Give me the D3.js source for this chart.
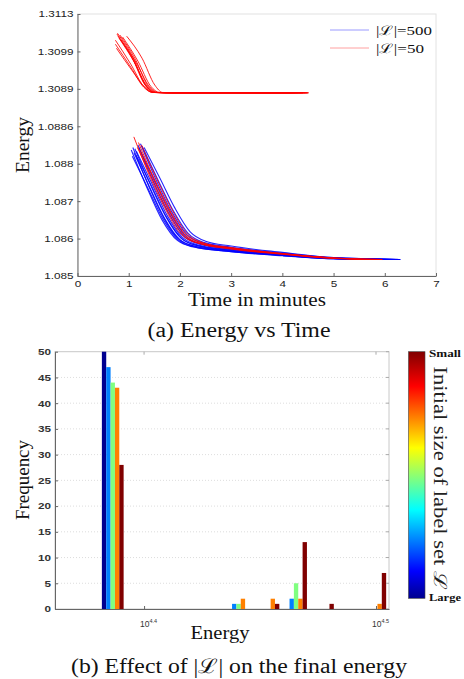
<!DOCTYPE html>
<html>
<head>
<meta charset="utf-8">
<script src="https://cdnjs.cloudflare.com/ajax/libs/d3/7.8.5/d3.min.js"></script>
<style>
body { margin: 0; background: #fff; }
</style>
</head>
<body>
<div id="c1"></div>
<script>
// ---- (a) energy vs time ----
var energyTicks = [1.085, 1.086, 1.087, 1.088, 1.0886, 1.3089, 1.3099, 1.3113];
var timeTicks = [0, 1, 2, 3, 4, 5, 6, 7];
var legendLabels = ["|\u2112|=500", "|\u2112|=50"];

// runs with |L|=500, points are [minutes, energy]
var runs500 = [
  [[1.05,1.08822],[1.35,1.08738],[1.65,1.08650],[1.95,1.08595],[2.25,1.08578],[3,1.08565],[4,1.08555],[5,1.08546],[6.3,1.08544]],
  [[1.08,1.08826],[1.38,1.08744],[1.68,1.08656],[1.98,1.08598],[2.28,1.08580],[3,1.08567],[4,1.08556],[5,1.08547],[6.25,1.08544]],
  [[1.10,1.08818],[1.40,1.08740],[1.70,1.08654],[2.00,1.08597],[2.30,1.08579],[3,1.08566],[4,1.08555],[5,1.08546],[6.2,1.08544]],
  [[1.12,1.08824],[1.42,1.08745],[1.72,1.08660],[2.02,1.08601],[2.32,1.08582],[3,1.08569],[4,1.08557],[5,1.08547],[6.3,1.08544]],
  [[1.15,1.08820],[1.45,1.08748],[1.75,1.08662],[2.05,1.08603],[2.35,1.08583],[3,1.08570],[4,1.08557],[5,1.08547],[6.1,1.08544]],
  [[1.18,1.08830],[1.48,1.08752],[1.78,1.08667],[2.08,1.08606],[2.38,1.08585],[3,1.08572],[4,1.08558],[5,1.08548],[6.3,1.08544]],
  [[1.20,1.08826],[1.50,1.08754],[1.80,1.08670],[2.10,1.08608],[2.40,1.08586],[3,1.08573],[4,1.08559],[5,1.08548],[6.0,1.08544]],
  [[1.23,1.08832],[1.53,1.08758],[1.83,1.08674],[2.13,1.08611],[2.43,1.08588],[3,1.08575],[4,1.08560],[5,1.08548],[6.3,1.08544]],
  [[1.26,1.08828],[1.56,1.08760],[1.86,1.08677],[2.16,1.08614],[2.46,1.08590],[3,1.08577],[4,1.08561],[5,1.08549],[6.2,1.08544]],
  [[1.30,1.08826],[1.60,1.08764],[1.90,1.08682],[2.20,1.08618],[2.50,1.08593],[3,1.08580],[4,1.08563],[5,1.08549],[6.3,1.08544]],
  [[1.07,1.08812],[1.37,1.08736],[1.67,1.08652],[1.97,1.08596],[2.27,1.08578],[3,1.08565],[4,1.08554],[5,1.08546],[5.8,1.08544]],
  [[1.14,1.08814],[1.44,1.08742],[1.74,1.08657],[2.04,1.08600],[2.34,1.08581],[3,1.08568],[4,1.08556],[5,1.08547],[6.3,1.08544]]
];

// runs with |L|=50 that end in the low minimum
var runs50Low = [
  [[1.10,1.08843],[1.40,1.08770],[1.70,1.08683],[2.00,1.08615],[2.30,1.08590],[3,1.08575],[4,1.08560],[5,1.08548],[5.95,1.08544]],
  [[1.17,1.08826],[1.47,1.08756],[1.77,1.08672],[2.07,1.08609],[2.37,1.08587],[3,1.08573],[4,1.08559],[5,1.08547],[5.9,1.08544]],
  [[1.22,1.08822],[1.52,1.08752],[1.82,1.08668],[2.12,1.08607],[2.42,1.08586],[3,1.08572],[4,1.08558],[5,1.08547],[5.95,1.08544]],
  [[1.25,1.08830],[1.55,1.08759],[1.85,1.08676],[2.15,1.08612],[2.45,1.08589],[3,1.08574],[4,1.08559],[5,1.08548],[5.6,1.08544]],
  [[1.19,1.08834],[1.49,1.08762],[1.79,1.08679],[2.09,1.08614],[2.39,1.08590],[3,1.08576],[4,1.08560],[5,1.08548],[5.95,1.08544]]
];

// runs with |L|=50 stuck in the high minimum
var runs50High = [
  [[0.74,1.31032],[1.04,1.30956],[1.29,1.30897],[1.46,1.2878],[1.7,1.2857],[4.3,1.2855]],
  [[0.77,1.31055],[1.07,1.30972],[1.32,1.30900],[1.49,1.2878],[1.75,1.2857],[4.5,1.2855]],
  [[0.79,1.31047],[1.09,1.30967],[1.34,1.30897],[1.51,1.2878],[1.75,1.2857],[4.45,1.2855]],
  [[0.81,1.31040],[1.11,1.30961],[1.36,1.30897],[1.53,1.2878],[1.8,1.2857],[4.4,1.2855]],
  [[0.83,1.31051],[1.13,1.30969],[1.38,1.30897],[1.55,1.2878],[1.8,1.2857],[4.52,1.2855]],
  [[0.76,1.31002],[1.06,1.30940],[1.31,1.30895],[1.48,1.2878],[1.7,1.2857],[4.2,1.2855]],
  [[0.85,1.31032],[1.15,1.30959],[1.40,1.30897],[1.56,1.2878],[1.8,1.2857],[4.35,1.2855]],
  [[0.96,1.31047],[1.26,1.30972],[1.51,1.30900],[1.66,1.2878],[1.9,1.2857],[4.5,1.2855]],
  [[0.74,1.31017],[1.04,1.30948],[1.29,1.30895],[1.46,1.2878],[1.7,1.2857],[4.25,1.2855]],
  [[0.88,1.31044],[1.18,1.30964],[1.43,1.30897],[1.60,1.2878],[1.85,1.2857],[4.48,1.2855]],
  [[0.78,1.31058],[1.08,1.30975],[1.33,1.30900],[1.50,1.2878],[1.75,1.2857],[4.4,1.2855]]
];

// ---- (b) histogram of final energy ----
var energyBins = [24350, 27590, 28420, 29210, 30000, 31600];
var countsSize1 = [50, 0, 0, 0, 0, 0];   // largest label set
var countsSize2 = [47, 1, 0, 2, 0, 0];
var countsSize3 = [44, 1, 0, 5, 0, 0];
var countsSize4 = [43, 2, 2, 2, 0, 1];
var countsSize5 = [28, 0, 1, 13, 1, 7];  // smallest label set
var barColors = ["#000090", "#0080ff", "#80ff80", "#ff8000", "#800000"];
var freqTicks = [0, 5, 10, 15, 20, 25, 30, 35, 40, 45, 50];
var logTicks = [4.4, 4.5];

var svg;
var sans = "Liberation Sans, Arial, sans-serif";
var serif = "Liberation Serif, Times New Roman, serif";

function stretch(sel, k) {
    sel.each(function () {
        var w = this.getComputedTextLength();
        d3.select(this).attr("textLength", w * k).attr("lengthAdjust", "spacingAndGlyphs");
    });
}

function label(g, txt, x, y, size, len, rot) {
    return g.append("text")
        .attr("transform", "translate(" + x + "," + y + ")" + (rot ? " rotate(" + rot + ")" : ""))
        .attr("text-anchor", "middle").attr("font-family", serif).attr("font-size", size).attr("fill", "#111")
        .attr("textLength", len).attr("lengthAdjust", "spacingAndGlyphs").text(txt);
}

function styleAxis(g) {
    g.attr("font-family", sans).attr("font-size", 9);
    g.select(".domain").attr("stroke", "#666");
    g.selectAll(".tick line").attr("stroke", "#666");
    g.selectAll(".tick text").attr("fill", "#222");
    stretch(g.selectAll(".tick text"), 1.3);
}

function drawTop() {
    var x = d3.scaleLinear().domain([0, 7]).range([77.5, 436]);
    var y = d3.scaleLinear()
        .domain(energyTicks)
        .range(energyTicks.map(function (d, i) { return 276 - i * 262 / 7; }));

    var g = svg.append("g");
    g.append("rect")
        .attr("x", 77.5).attr("y", 14).attr("width", 358.5).attr("height", 262)
        .attr("fill", "none").attr("stroke", "#e2e2e2");

    var xa = g.append("g").attr("transform", "translate(0,276)")
        .call(d3.axisBottom(x).tickValues(timeTicks).tickSize(-3).tickSizeOuter(0).tickPadding(5)
            .tickFormat(d3.format("d")));
    styleAxis(xa);
    var ya = g.append("g").attr("transform", "translate(77.5,0)")
        .call(d3.axisLeft(y).tickValues(energyTicks).tickSize(-3).tickSizeOuter(0).tickPadding(4)
            .tickFormat(function (d) { return String(d); }));
    styleAxis(ya);

    var line = d3.line()
        .x(function (d) { return x(d[0]); })
        .y(function (d) { return y(d[1]); })
        .curve(d3.curveMonotoneX);

    g.selectAll("path.r500").data(runs500).enter().append("path")
        .attr("class", "r500").attr("d", line)
        .attr("fill", "none").attr("stroke", "#0000ff").attr("stroke-width", 1.1).attr("stroke-opacity", 0.85);
    g.selectAll("path.r50l").data(runs50Low).enter().append("path")
        .attr("class", "r50l").attr("d", line)
        .attr("fill", "none").attr("stroke", "#ff0000").attr("stroke-width", 1).attr("stroke-opacity", 0.85);
    g.selectAll("path.r50h").data(runs50High).enter().append("path")
        .attr("class", "r50h").attr("d", line)
        .attr("fill", "none").attr("stroke", "#ff0000").attr("stroke-width", 1).attr("stroke-opacity", 0.85);

    // legend
    var legColors = ["#9a9aff", "#ffa0a0"];
    var lg = g.selectAll("g.leg").data(legendLabels).enter().append("g")
        .attr("class", "leg")
        .attr("transform", function (d, i) { return "translate(330," + (30 + i * 18) + ")"; });
    lg.append("line").attr("x1", 0).attr("x2", 39).attr("y1", 0).attr("y2", 0)
        .attr("stroke", function (d, i) { return legColors[i]; }).attr("stroke-width", 1);
    lg.append("text").attr("x", 46).attr("y", 4.5)
        .attr("font-family", serif).attr("font-size", 13).attr("fill", "#111")
        .attr("textLength", function (d, i) { return i == 0 ? 56 : 48; })
        .attr("lengthAdjust", "spacingAndGlyphs")
        .text(function (d) { return d; });

    // titles
    label(g, "Energy", 29, 145, 18, 56, -90);
    label(g, "Time in minutes", 257, 305.5, 18.5, 138);
    label(g, "(a) Energy vs Time", 239, 337, 20, 183);
}

function drawBottom() {
    var x = d3.scaleLog().domain([Math.pow(10, 4.3616), Math.pow(10, 4.5056)]).range([55, 389]);
    var y = d3.scaleLinear().domain([0, 50]).range([609, 351.7]);
    var bw = 4.35;
    var series = [countsSize1, countsSize2, countsSize3, countsSize4, countsSize5];

    var g = svg.append("g");

    // grid
    g.selectAll("line.grid").data(freqTicks.slice(1, -1)).enter().append("line")
        .attr("class", "grid")
        .attr("x1", 55).attr("x2", 389)
        .attr("y1", function (d) { return y(d); }).attr("y2", function (d) { return y(d); })
        .attr("stroke", "#d4d4d4").attr("stroke-width", 0.8).attr("stroke-dasharray", "1,2");

    g.append("rect")
        .attr("x", 55).attr("y", 351.7).attr("width", 334).attr("height", 257.3)
        .attr("fill", "none").attr("stroke", "#c8c8c8");

    // bars
    series.forEach(function (counts, i) {
        g.selectAll("rect.s" + i)
            .data(counts.map(function (c, j) { return { e: energyBins[j], c: c }; })
                .filter(function (d) { return d.c > 0; }))
            .enter().append("rect")
            .attr("class", "s" + i)
            .attr("x", function (d) { return x(d.e) + (i - 2.5) * bw; })
            .attr("width", bw)
            .attr("y", function (d) { return y(d.c); })
            .attr("height", function (d) { return y(0) - y(d.c); })
            .attr("fill", barColors[i]);
    });

    // right-side ticks
    g.selectAll("line.rt").data(freqTicks).enter().append("line")
        .attr("x1", 386).attr("x2", 389)
        .attr("y1", function (d) { return y(d); }).attr("y2", function (d) { return y(d); })
        .attr("stroke", "#aaa");
    // top ticks
    g.selectAll("line.tt").data(logTicks).enter().append("line")
        .attr("x1", function (d) { return x(Math.pow(10, d)); }).attr("x2", function (d) { return x(Math.pow(10, d)); })
        .attr("y1", 351.7).attr("y2", 354.7).attr("stroke", "#aaa");

    var ya = g.append("g").attr("transform", "translate(55,0)")
        .call(d3.axisLeft(y).tickValues(freqTicks).tickSize(-3).tickSizeOuter(0).tickPadding(4));
    styleAxis(ya);
    ya.selectAll(".tick text").attr("font-weight", "bold").attr("fill", "#333");

    var xa = g.append("g").attr("transform", "translate(0,609)")
        .call(d3.axisBottom(x).tickValues(logTicks.map(function (d) { return Math.pow(10, d); }))
            .tickSize(-3).tickSizeOuter(0).tickFormat(""));
    styleAxis(xa);

    var tl = g.selectAll("text.xl").data(logTicks).enter().append("text")
        .attr("x", function (d) { return x(Math.pow(10, d)) - 4; }).attr("y", 627)
        .attr("font-family", sans).attr("font-size", 8.5).attr("fill", "#333");
    tl.append("tspan").text("10");
    tl.append("tspan").attr("dy", -4.5).attr("font-size", 5.5).text(function (d) { return d.toFixed(1); });

    // colorbar
    var defs = svg.append("defs");
    var grad = defs.append("linearGradient").attr("id", "jet")
        .attr("x1", 0).attr("y1", 1).attr("x2", 0).attr("y2", 0);
    var jetStops = [[0, "#00008f"], [0.11, "#0000ff"], [0.36, "#00ffff"], [0.61, "#ffff00"], [0.86, "#ff0000"], [1, "#800000"]];
    grad.selectAll("stop").data(jetStops).enter().append("stop")
        .attr("offset", function (d) { return d[0]; })
        .attr("stop-color", function (d) { return d[1]; });
    g.append("rect").attr("x", 408.5).attr("y", 351.7).attr("width", 16.5).attr("height", 246.6)
        .attr("fill", "url(#jet)").attr("stroke", "#444").attr("stroke-width", 0.6);
    g.append("text").attr("x", 429).attr("y", 357).attr("font-family", serif).attr("font-weight", "bold")
        .attr("font-size", 11).attr("fill", "#111").attr("textLength", 32).attr("lengthAdjust", "spacingAndGlyphs")
        .text("Small");
    g.append("text").attr("x", 429).attr("y", 601).attr("font-family", serif).attr("font-weight", "bold")
        .attr("font-size", 11).attr("fill", "#111").attr("textLength", 32).attr("lengthAdjust", "spacingAndGlyphs")
        .text("Large");
    label(g, "Initial size of label set \u2112", 434, 478, 18, 223, 90).attr("fill", "#222");

    // titles
    label(g, "Frequency", 29, 480, 18, 80, -90);
    label(g, "Energy", 220, 638.5, 18, 59);
    label(g, "(b) Effect of |\u2112| on the final energy", 239, 673, 20, 336);
}

function draw() {
    svg = d3.select("body").select("#c1").append("svg")
        .attr("width", 464)
        .attr("height", 679);
    drawTop();
    drawBottom();
}

draw();
</script>
</body>
</html>
